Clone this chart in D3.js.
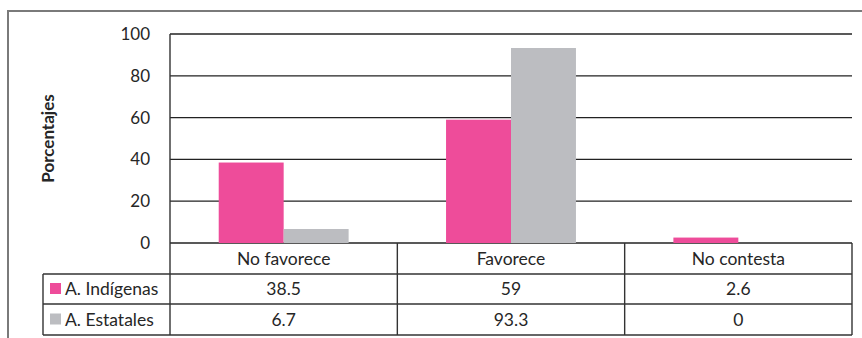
<!DOCTYPE html>
<html><head><meta charset="utf-8">
<script src="https://cdn.jsdelivr.net/npm/d3@7"></script>
<style>body{margin:0;background:#fff}svg{display:block}text{font-family:Lato,"Open Sans",sans-serif;fill:#262626}</style>
</head><body>
<svg id="c" width="862" height="338"></svg>
<script>
const categories = ["No favorece", "Favorece", "No contesta"];
const seriesNames = ["A. Indígenas", "A. Estatales"];
const indigenas = [38.5, 59, 2.6];
const estatales = [6.7, 93.3, 0];
const tableLabels = [["38.5", "59", "2.6"], ["6.7", "93.3", "0"]];
const yTicks = [0, 20, 40, 60, 80, 100];
const colors = ["#EE4C9A", "#BCBDC1"];

const values = [indigenas, estatales];
const svg = d3.select("#c");
const L = 170, R = 852, T = 34, B = 243;
const rowY = [243, 274, 304, 335];
const tableLeft = 43;

// outer frame
svg.append("path").attr("d", "M8,338 L8,11 L862,11").attr("fill", "none").attr("stroke", "#7a7a7a").attr("stroke-width", 2);

const x0 = d3.scaleBand().domain(categories).range([L, R]).padding(0);
const x1 = d3.scaleBand().domain(seriesNames).range([0, x0.bandwidth()]).paddingInner(0).paddingOuter(0.75);
const y = d3.scaleLinear().domain([0, 100]).range([B, T]);

// gridlines
svg.append("g").selectAll("line").data(yTicks).join("line")
  .attr("x1", L).attr("x2", R).attr("y1", d => y(d)).attr("y2", d => y(d))
  .attr("stroke", "#222").attr("stroke-width", 1.3);

// y axis
const yAxis = d3.axisLeft(y).tickValues(yTicks).tickSize(0).tickPadding(20);
const ga = svg.append("g").attr("transform", `translate(${L},0)`).call(yAxis);
ga.select(".domain").remove();
ga.selectAll("text").style("font-size", "17px").style("font-family", "Lato,'Open Sans',sans-serif").attr("fill", "#262626");

// bars
seriesNames.forEach((s, si) => {
  svg.append("g").selectAll("rect").data(categories).join("rect")
    .attr("x", c => x0(c) + x1(s)).attr("width", x1.bandwidth())
    .attr("y", (c, i) => y(values[si][i])).attr("height", (c, i) => B - y(values[si][i]))
    .attr("fill", colors[si]);
});

// table lines
const tl = svg.append("g").attr("stroke", "#333").attr("stroke-width", 1.4);
tl.append("line").attr("x1", L).attr("x2", L).attr("y1", T).attr("y2", rowY[3]);
categories.forEach(c => {
  tl.append("line").attr("x1", x0(c) + x0.bandwidth()).attr("x2", x0(c) + x0.bandwidth()).attr("y1", rowY[0]).attr("y2", rowY[3]);
});
tl.append("line").attr("x1", tableLeft).attr("x2", tableLeft).attr("y1", rowY[1]).attr("y2", rowY[3]);
[1, 2, 3].forEach(r => {
  tl.append("line").attr("x1", tableLeft).attr("x2", R).attr("y1", rowY[r]).attr("y2", rowY[r]);
});

const fs = "17.5px";
// category labels
svg.append("g").selectAll("text").data(categories).join("text")
  .attr("x", c => x0(c) + x0.bandwidth() / 2).attr("y", (rowY[0] + rowY[1]) / 2 + 6)
  .attr("text-anchor", "middle").style("font-size", fs).text(c => c);

// table rows
seriesNames.forEach((s, si) => {
  const yc = (rowY[si + 1] + rowY[si + 2]) / 2;
  svg.append("rect").attr("x", 50).attr("y", yc - 6).attr("width", 11).attr("height", 11).attr("fill", colors[si]);
  svg.append("text").attr("x", 65).attr("y", yc + 6).style("font-size", fs).text(s);
  svg.append("g").selectAll("text").data(categories).join("text")
    .attr("x", c => x0(c) + x0.bandwidth() / 2).attr("y", yc + 6)
    .attr("text-anchor", "middle").style("font-size", fs).text((c, i) => tableLabels[si][i]);
});

// y title
svg.append("text").attr("transform", `translate(54,${(T + B) / 2}) rotate(-90)`)
  .attr("text-anchor", "middle").style("font-size", "17px").style("font-weight", "bold").text("Porcentajes");
</script>
</body></html>
